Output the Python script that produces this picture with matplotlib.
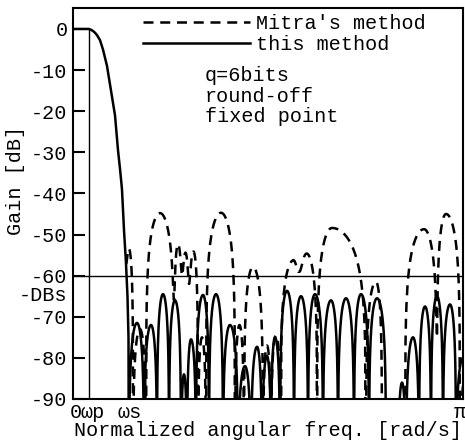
import numpy as np
import matplotlib.pyplot as plt
from matplotlib.transforms import ScaledTranslation

# frequencies are in units of pi (omega/pi), gains in dB
wp = 0.041
ws = 0.14

# passband + transition edge (shared by both methods)
pass_f = [0, 0.041, 0.0462, 0.0513, 0.0564, 0.0615, 0.0692, 0.0769, 0.0821,
          0.0872, 0.0923, 0.0974, 0.1026, 0.1077, 0.1154, 0.1205, 0.1256,
          0.1308, 0.1359, 0.1397, 0.1423, 0.1436]
pass_db = [0, 0, -0.2, -0.5, -0.9, -1.5, -2.7, -5, -7, -9, -12, -15, -18,
           -21, -29.5, -34, -39, -49, -57, -65, -75, -130]

# stopband of "this method": nulls, null depth, lobe peak position and level
this_nulls = [0.1436, 0.1821, 0.2154, 0.2462, 0.2769, 0.2923, 0.3154, 0.3487,
              0.3846, 0.4231, 0.4564, 0.4846, 0.5077, 0.5308, 0.5667, 0.6026,
              0.6410, 0.6795, 0.7205, 0.7590, 0.8026, 0.8333, 0.8538, 0.8872,
              0.9179, 0.9487, 0.9821, 1.0179]
this_depth = [-130, -130, -130, -130, -130, -130, -130, -130, -130, -130,
              -130, -130, -130, -130, -130, -130, -130, -130, -130, -130,
              -130, -130, -130, -130, -130, -130, -130, -130]
this_pk_f = [0.1641, 0.2, 0.2308, 0.2615, 0.2846, 0.3026, 0.3333, 0.3667,
             0.4026, 0.4410, 0.4718, 0.4974, 0.5179, 0.5487, 0.5846, 0.6205,
             0.6615, 0.7, 0.7385, 0.7795, 0.8179, 0.8436, 0.8718, 0.9026,
             0.9333, 0.9667, 1.0]
this_pk_db = [-71.5, -72, -64.5, -66, -84, -75.5, -64.7, -64.5, -72, -82,
              -77.3, -79.5, -75, -63.7, -65, -64.5, -66, -65.5, -64.5, -65.5,
              -100, -86, -75, -67.5, -65, -67, -80]

# stopband of Mitra's method
mitra_nulls = [0.1359, 0.1538, 0.1872, 0.2590, 0.2795, 0.2974, 0.3205, 0.3410,
               0.4154, 0.4385, 0.4872, 0.5077, 0.5333, 0.5795, 0.6256, 0.7513,
               0.7923, 0.8513, 0.9333, 0.9923, 1.0179]
mitra_depth = [-57, -130, -130, -66, -60, -62, -130, -130, -130, -130, -130,
               -130, -130, -59, -130, -130, -130, -130, -75, -130, -130]
mitra_pk_f = [0.1436, 0.1718, 0.2231, 0.2692, 0.2885, 0.3090, 0.3308, 0.3795,
              0.4269, 0.4615, 0.4974, 0.5205, 0.5641, 0.6, 0.6641, 0.7769,
              0.8205, 0.9, 0.9564, 1.0051]
mitra_pk_db = [-54.5, -73, -44.8, -52.8, -55.5, -54.5, -75, -44.7, -72, -57.9,
               -77, -74.5, -57.6, -55.5, -48.4, -61.5, -100, -48.7, -45, -85]

ytick_vals = [0, -10, -20, -30, -40, -50, -60, -70, -80, -90]


def lobes(nulls, depth, pk_f, pk_db, n=80):
    # draw each sidelobe as an arch between two nulls through its peak
    xs, ys = [], []
    t = np.linspace(0, 1, n)
    for i in range(len(pk_f)):
        a, b, c = nulls[i], pk_f[i], nulls[i + 1]
        x = np.where(t < 0.5, a + (b - a) * 2 * t, b + (c - b) * (2 * t - 1))
        floor = (1 - t) * 10 ** (depth[i] / 10) + t * 10 ** (depth[i + 1] / 10)
        y = 10 * np.log10(10 ** (pk_db[i] / 10) * np.sin(np.pi * t) ** 2 + floor)
        xs.append(x)
        ys.append(y)
    return np.concatenate(xs), np.concatenate(ys)


plt.rcParams['font.family'] = ['Liberation Mono', 'DejaVu Sans Mono']
plt.rcParams['font.size'] = 14.5
plt.rcParams['axes.unicode_minus'] = False

fig = plt.figure(figsize=(4.65, 4.45), dpi=100)
ax = fig.add_axes([73 / 465, 1 - 399 / 445, 390 / 465, 391 / 445])

sf, sdb = lobes(this_nulls, this_depth, this_pk_f, this_pk_db)
this_f = np.concatenate([pass_f, sf])
this_db = np.concatenate([pass_db, sdb])
mf, mdb = lobes(mitra_nulls, mitra_depth, mitra_pk_f, mitra_pk_db)

l_mitra, = ax.plot(mf * np.pi, mdb, color='k', lw=1.8,
                   linestyle=(0, (4, 2.7)), label="Mitra's method")
l_this, = ax.plot(this_f * np.pi, this_db, color='k', lw=1.8,
                  label='this method')

ax.axhline(-60, color='k', lw=1.0)
ax.vlines(wp * np.pi, -90, 0, color='k', lw=1.0)

ax.set_xlim(0, np.pi)
ax.set_ylim(-90, 5.1)

ax.set_yticks(ytick_vals)
ax.set_yticklabels([str(v) for v in ytick_vals])
ax.tick_params(axis='y', direction='in', length=8.6, width=1.5, pad=4)

ax.set_xticks([0, wp * np.pi, ws * np.pi, np.pi])
ax.set_xticklabels(['0', 'ωp', 'ωs', 'π'])
ax.tick_params(axis='x', length=0, pad=3)
for lab, dx in zip(ax.get_xticklabels(), [2.5, 3.5, 2, -3]):
    lab.set_transform(lab.get_transform() + ScaledTranslation(dx / 100, 0, fig.dpi_scale_trans))

for s in ax.spines.values():
    s.set_linewidth(1.5)

ax.text(-6 / 390, -64.8, '-DBs', transform=ax.get_yaxis_transform(),
        ha='right', va='center')

ax.set_xlabel('Normalized angular freq. [rad/s]', labelpad=-0.8)
ax.set_ylabel('Gain [dB]')
ax.yaxis.set_label_coords(-0.124, 0.56)

ax.legend(handles=[l_mitra, l_this], loc='upper left',
          bbox_to_anchor=(0.1795, 0.985), frameon=False, handlelength=5.3,
          handletextpad=0.3, labelspacing=0.1, borderpad=0, borderaxespad=0)

ax.text(0.3385, 0.852, 'q=6bits\nround-off\nfixed point', transform=ax.transAxes,
        ha='left', va='top', linespacing=1.12)

fig.savefig('out.png', dpi=100)
